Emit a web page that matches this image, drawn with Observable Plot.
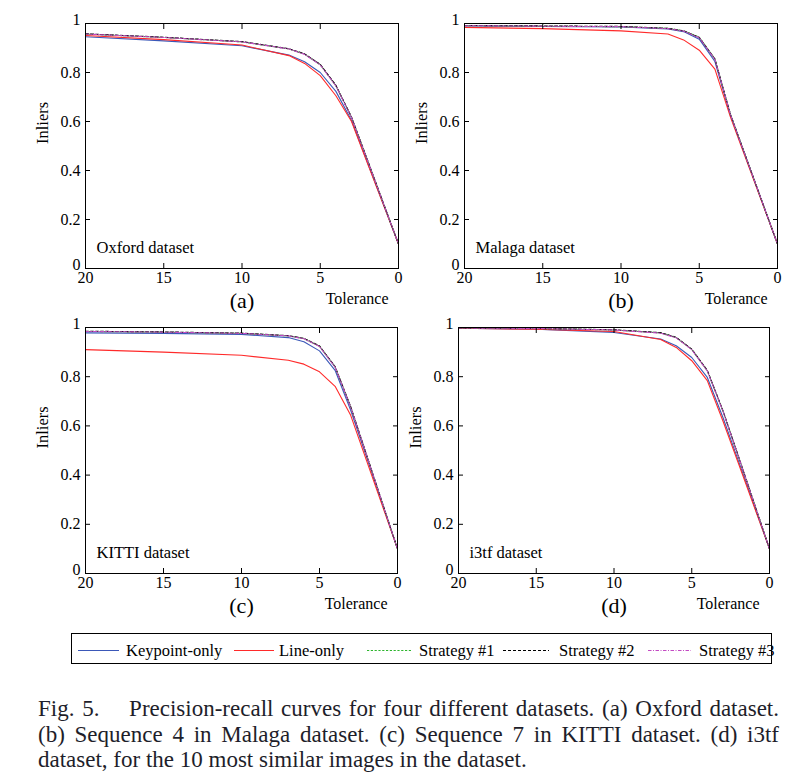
<!DOCTYPE html>
<html>
<head>
<meta charset="utf-8">
<script src="https://cdn.jsdelivr.net/npm/d3@7"></script>
<script src="https://cdn.jsdelivr.net/npm/@observablehq/plot@0.6"></script>
<style>
  html, body { margin: 0; padding: 0; background: #fff; }
  body { width: 792px; height: 780px; position: relative; overflow: hidden; font-family: "Liberation Serif", serif; }
  .panel { position: absolute; }
  .panel svg, .panel svg text { font-family: "Liberation Serif", serif !important; }
  #legend { position: absolute; left: 71px; top: 633px; width: 699px; height: 29px; border: 1px solid #000; box-sizing: content-box; }
  .litem { position: absolute; top: 0; height: 29px; font-family: "Liberation Serif", serif; font-size: 16.5px; line-height: 29px; color: #000; white-space: nowrap; }
  #caption { position: absolute; left: 38px; top: 696px; width: 741px; font-family: "Liberation Serif", serif; font-size: 23px; line-height: 25.5px; color: #1e1e2a; }
  #caption div { white-space: nowrap; }
  #caption .j { text-align: justify; text-align-last: justify; white-space: normal; }
</style>
</head>
<body>
<div id="pa" class="panel" style="left:0px;top:0px"></div>
<div id="pb" class="panel" style="left:400px;top:0px"></div>
<div id="pc" class="panel" style="left:0px;top:318px"></div>
<div id="pd" class="panel" style="left:400px;top:318px"></div>
<div id="legend"></div>
<div id="caption">
  <div class="j">Fig. 5.<span style="display:inline-block;width:22px"></span> Precision-recall curves for four different datasets. (a) Oxford dataset.</div>
  <div class="j">(b) Sequence 4 in Malaga dataset. (c) Sequence 7 in KITTI dataset. (d) i3tf</div>
  <div>dataset, for the 10 most similar images in the dataset.</div>
</div>
<script>
// ---- data ----
const tolerance = [20, 15, 10, 7, 6, 5, 4, 3, 2, 1, 0];
const xTicks = [20, 15, 10, 5, 0];
const yTicks = [0, 0.2, 0.4, 0.6, 0.8, 1];
const yTicksMid = [0.2, 0.4, 0.6, 0.8];
const yTicksEnd = [0, 1];
const seriesNames = ["Keypoint-only", "Line-only", "Strategy #1", "Strategy #2", "Strategy #3"];

const oxfordKeypoint = [0.946, 0.929, 0.909, 0.871, 0.844, 0.800, 0.723, 0.604, 0.435, 0.268, 0.100];
const oxfordLine     = [0.951, 0.934, 0.912, 0.869, 0.837, 0.787, 0.705, 0.600, 0.432, 0.266, 0.100];
const oxfordS1       = [0.957, 0.943, 0.925, 0.896, 0.875, 0.832, 0.746, 0.617, 0.445, 0.272, 0.100];
const oxfordS2       = [0.958, 0.944, 0.926, 0.897, 0.876, 0.833, 0.748, 0.618, 0.446, 0.273, 0.100];
const oxfordS3       = [0.957, 0.943, 0.925, 0.896, 0.874, 0.831, 0.745, 0.616, 0.444, 0.272, 0.100];

const malagaKeypoint = [0.990, 0.988, 0.986, 0.978, 0.967, 0.936, 0.845, 0.624, 0.450, 0.275, 0.100];
const malagaLine     = [0.984, 0.979, 0.970, 0.957, 0.933, 0.891, 0.814, 0.617, 0.445, 0.272, 0.100];
const malagaS1       = [0.991, 0.989, 0.987, 0.980, 0.970, 0.944, 0.856, 0.628, 0.452, 0.276, 0.100];
const malagaS2       = [0.992, 0.990, 0.988, 0.980, 0.970, 0.943, 0.855, 0.628, 0.452, 0.276, 0.100];
const malagaS3       = [0.991, 0.989, 0.987, 0.979, 0.969, 0.942, 0.854, 0.627, 0.451, 0.276, 0.100];

const kittiKeypoint  = [0.978, 0.976, 0.972, 0.959, 0.942, 0.905, 0.826, 0.663, 0.476, 0.288, 0.100];
const kittiLine      = [0.910, 0.900, 0.887, 0.867, 0.851, 0.820, 0.761, 0.643, 0.462, 0.281, 0.100];
const kittiS1        = [0.984, 0.981, 0.976, 0.966, 0.955, 0.924, 0.840, 0.677, 0.485, 0.292, 0.100];
const kittiS2        = [0.985, 0.982, 0.977, 0.967, 0.956, 0.925, 0.841, 0.678, 0.486, 0.293, 0.100];
const kittiS3        = [0.984, 0.981, 0.976, 0.966, 0.954, 0.923, 0.839, 0.676, 0.485, 0.292, 0.100];

const i3tfKeypoint   = [0.997, 0.993, 0.980, 0.953, 0.926, 0.878, 0.797, 0.635, 0.458, 0.279, 0.100];
const i3tfLine       = [0.997, 0.993, 0.984, 0.951, 0.919, 0.865, 0.784, 0.621, 0.448, 0.274, 0.100];
const i3tfS1         = [0.998, 0.996, 0.990, 0.978, 0.959, 0.911, 0.824, 0.662, 0.476, 0.288, 0.100];
const i3tfS2         = [0.998, 0.996, 0.991, 0.979, 0.960, 0.912, 0.826, 0.663, 0.477, 0.289, 0.100];
const i3tfS3         = [0.998, 0.996, 0.990, 0.977, 0.958, 0.910, 0.823, 0.661, 0.476, 0.288, 0.100];

const colors = ["#3b58b8", "#ff2a2a", "#2db52d", "#000000", "#c44cc4"];
const dashes = [null, null, "2.2,1.6", "3,2", "3.5,1.5,1,1.5"];

const FONT = "'Liberation Serif', serif";

function makePanel(el, cfg) {
  const rows = [];
  cfg.series.forEach((vals, si) => {
    vals.forEach((v, i) => rows.push({ s: si, t: tolerance[i], v }));
  });
  const lineMarks = cfg.series.map((_, si) =>
    Plot.line(rows.filter(r => r.s === si), {
      x: "t", y: "v", stroke: colors[si], strokeWidth: 1.1,
      strokeDasharray: dashes[si] || undefined
    })
  );
  const chart = Plot.plot({
    width: cfg.width, height: cfg.height,
    marginLeft: cfg.mL, marginRight: cfg.mR, marginTop: cfg.mT, marginBottom: cfg.mB,
    style: `font-family: ${FONT}; font-size: 16px; color: #000; background: transparent; overflow: visible;`,
    x: { domain: [20, 0] },
    y: { domain: [0, 1] },
    marks: [
      ...lineMarks,
      Plot.frame({ stroke: "#000", strokeWidth: 1 }),
      Plot.axisX({ anchor: "bottom", ticks: xTicks, tickSize: -5, tickPadding: 8.5, label: null, fontSize: 16, fontFamily: FONT, stroke: "#000" }),
      Plot.axisX({ anchor: "top", ticks: xTicks, tickSize: -5, tickFormat: () => "", label: null, stroke: "#000" }),
      Plot.axisY({ anchor: "left", ticks: yTicks, tickSize: -5, tickFormat: () => "", label: null, stroke: "#000" }),
      Plot.axisY({ anchor: "left", ticks: yTicksMid, tickSize: 0, tickPadding: 5, tickFormat: d => String(d), label: null, fontSize: 16, fontFamily: FONT }),
      Plot.axisY({ anchor: "left", ticks: yTicksEnd, tickSize: 0, tickPadding: 5, tickFormat: d => String(d), label: null, fontSize: 16, fontFamily: FONT, dy: -4 }),
      Plot.axisY({ anchor: "right", ticks: yTicks, tickSize: -5, tickFormat: () => "", label: null, stroke: "#000" }),
      Plot.text([cfg.name], { frameAnchor: "bottom-left", textAnchor: "start", dx: 11, dy: -16, fontSize: 16.5, fontFamily: FONT, fill: "#000" }),
      Plot.text(["Inliers"], { frameAnchor: "left", rotate: -90, dx: -43, dy: -2, fontSize: 16.5, fontFamily: FONT, fill: "#000" }),
      Plot.text(["Tolerance"], { frameAnchor: "bottom-right", textAnchor: "end", dx: -10, dy: 35, fontSize: 16, fontFamily: FONT, fill: "#000" }),
      Plot.text([cfg.letter], { frameAnchor: "bottom", dy: 39, fontSize: 22, fontFamily: FONT, fill: "#000" })
    ]
  });
  el.appendChild(chart);
}

makePanel(document.getElementById("pa"), {
  series: [oxfordKeypoint, oxfordLine, oxfordS1, oxfordS2, oxfordS3],
  name: "Oxford dataset", letter: "(a)",
  width: 400, height: 318, mL: 85, mR: 2, mT: 23, mB: 50
});
makePanel(document.getElementById("pb"), {
  series: [malagaKeypoint, malagaLine, malagaS1, malagaS2, malagaS3],
  name: "Malaga dataset", letter: "(b)",
  width: 392, height: 318, mL: 64, mR: 15, mT: 23, mB: 50
});
makePanel(document.getElementById("pc"), {
  series: [kittiKeypoint, kittiLine, kittiS1, kittiS2, kittiS3],
  name: "KITTI dataset", letter: "(c)",
  width: 400, height: 305, mL: 85, mR: 3, mT: 9, mB: 50
});
makePanel(document.getElementById("pd"), {
  series: [i3tfKeypoint, i3tfLine, i3tfS1, i3tfS2, i3tfS3],
  name: "i3tf dataset", letter: "(d)",
  width: 392, height: 305, mL: 58, mR: 23, mT: 9, mB: 50
});

// ---- legend ----
const legend = document.getElementById("legend");
const legendItems = [
  { x1: 6, x2: 47, tx: 54 },
  { x1: 162, x2: 202, tx: 207 },
  { x1: 295, x2: 339, tx: 347 },
  { x1: 431, x2: 477, tx: 487 },
  { x1: 576, x2: 619, tx: 627 }
];
const svgNS = "http://www.w3.org/2000/svg";
const lsvg = document.createElementNS(svgNS, "svg");
lsvg.setAttribute("width", 699); lsvg.setAttribute("height", 29);
lsvg.style.position = "absolute"; lsvg.style.left = "0"; lsvg.style.top = "0";
legendItems.forEach((it, i) => {
  const ln = document.createElementNS(svgNS, "line");
  ln.setAttribute("x1", it.x1); ln.setAttribute("x2", it.x2);
  ln.setAttribute("y1", 16.5); ln.setAttribute("y2", 16.5);
  ln.setAttribute("stroke", colors[i]); ln.setAttribute("stroke-width", 1.1);
  if (dashes[i]) ln.setAttribute("stroke-dasharray", dashes[i]);
  lsvg.appendChild(ln);
  const d = document.createElement("div");
  d.className = "litem";
  d.style.left = it.tx + "px";
  d.style.top = "2px";
  d.textContent = seriesNames[i];
  legend.appendChild(d);
});
legend.appendChild(lsvg);
</script>
</body>
</html>
